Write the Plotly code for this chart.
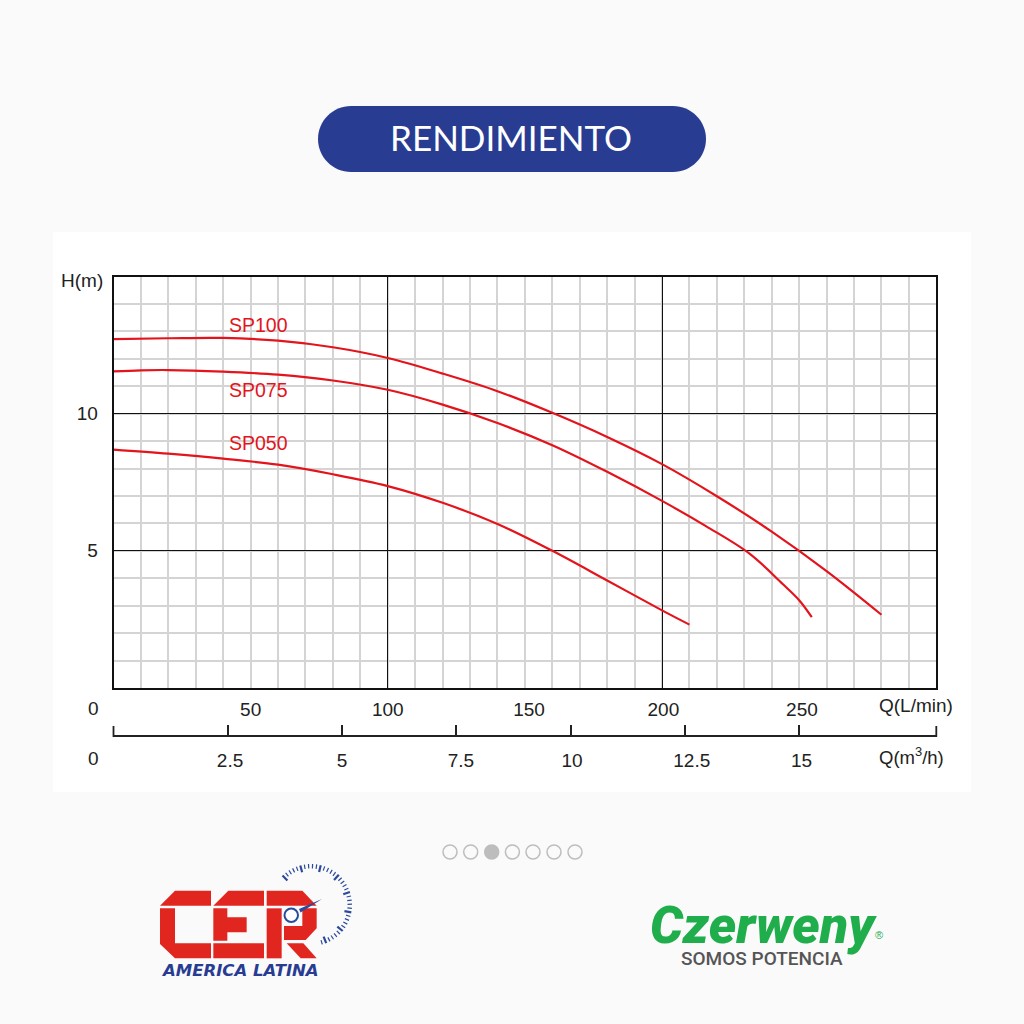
import math
import plotly.graph_objects as go

# ---------- data ----------
sp100_q = [0, 20, 40, 60, 80, 100, 120, 140, 160, 180, 200, 220, 240, 260, 280]
sp100_h = [12.72, 12.75, 12.76, 12.66, 12.42, 12.03, 11.46, 10.82, 10.03, 9.15, 8.16, 6.99, 5.7, 4.26, 2.67]
sp075_q = [0, 10, 20, 40, 60, 80, 100, 120, 140, 160, 180, 200, 216, 232, 244, 250, 254.6]
sp075_h = [11.54, 11.58, 11.59, 11.53, 11.42, 11.21, 10.87, 10.33, 9.66, 8.85, 7.88, 6.82, 5.9, 4.89, 3.79, 3.2, 2.58]
sp050_q = [0, 20, 40, 60, 80, 100, 120, 140, 160, 180, 200, 210]
sp050_h = [8.69, 8.54, 8.36, 8.14, 7.79, 7.36, 6.75, 5.98, 5.0, 3.92, 2.83, 2.31]
series_names = ["SP100", "SP075", "SP050"]
series_label_q = [53, 53, 53]
series_label_h = [13.22, 10.85, 8.92]

h_ticks = [5, 10]
q_grid_major = [100, 200]
lmin_label_pos = [50, 100, 151.5, 200.5, 251]
lmin_labels = ["50", "100", "150", "200", "250"]
m3h_ticks = [2.5, 5, 7.5, 10, 12.5, 15]
m3h_label_pos = [2.55, 5, 7.6, 10.03, 12.65, 15.05]
m3h_labels = ["2.5", "5", "7.5", "10", "12.5", "15"]

# ---------- style ----------
W = 1024
BG = "#fafafa"
INK = "#222222"
RED = "#e3141c"
GRID = "#d4d4d4"
BLUE = "#283c92"
FONT = "Liberation Sans"
AX_L, AX_R = 113.5, 936.3


def px(x):
    return x / W


def py(y):
    return 1 - y / W


def poly(points, color):
    path = "M " + " L ".join(f"{px(a):.5f},{py(b):.5f}" for a, b in points) + " Z"
    return dict(type="path", xref="paper", yref="paper", path=path, fillcolor=color, line=dict(width=0))


def pill(x0, y0, x1, y1, r, color):
    k = 0.5523 * r
    p = [
        f"M {px(x0+r)},{py(y0)}", f"L {px(x1-r)},{py(y0)}",
        f"C {px(x1-r+k)},{py(y0)} {px(x1)},{py(y0+r-k)} {px(x1)},{py(y0+r)}",
        f"L {px(x1)},{py(y1-r)}",
        f"C {px(x1)},{py(y1-r+k)} {px(x1-r+k)},{py(y1)} {px(x1-r)},{py(y1)}",
        f"L {px(x0+r)},{py(y1)}",
        f"C {px(x0+r-k)},{py(y1)} {px(x0)},{py(y1-r+k)} {px(x0)},{py(y1-r)}",
        f"L {px(x0)},{py(y0+r)}",
        f"C {px(x0)},{py(y0+r-k)} {px(x0+r-k)},{py(y0)} {px(x0+r)},{py(y0)}", "Z",
    ]
    return dict(type="path", xref="paper", yref="paper", path=" ".join(p), fillcolor=color, line=dict(width=0), layer="below")


def note(text, x, y, size=19, color=INK, family=FONT, **fontkw):
    return dict(text=text, xref="paper", yref="paper", x=px(x), y=py(y), showarrow=False,
                xanchor="center", yanchor="middle", font=dict(size=size, color=color, family=family, **fontkw))


shapes = [
    dict(type="rect", xref="paper", yref="paper", x0=px(53), x1=px(971), y0=py(232), y1=py(792),
         fillcolor="white", line=dict(width=0), layer="below"),
    pill(318, 106, 706, 172, 33, BLUE),
]

# end ticks of the m3/h scale
for ex in (AX_L, AX_R):
    shapes.append(dict(type="line", xref="paper", yref="paper", x0=px(ex), x1=px(ex), y0=py(737), y1=py(726),
                       line=dict(color=INK, width=1.8)))

# pagination dots
for i, cx in enumerate([450, 470.7, 491.7, 512.4, 533, 554, 575]):
    shapes.append(dict(type="circle", xref="paper", yref="paper", x0=px(cx - 7), x1=px(cx + 7),
                       y0=py(859), y1=py(845), line=dict(color="#bdbdbd", width=1.5),
                       fillcolor="#bdbdbd" if i == 2 else "rgba(0,0,0,0)"))


# CER logo (zoomed-crop coordinates mapped to page)
def z(points):
    return [(a / 3 + 140, b / 3 + 840) for a, b in points]


LOGO_RED = "#e1251f"
cer_polys = [
    [(60, 197), (105, 152), (213, 152), (213, 197)],
    [(60, 205), (105, 205), (105, 310), (213, 310), (213, 355), (105, 355), (60, 312)],
    [(220, 197), (265, 152), (372, 152), (372, 197)],
    [(220, 205), (262, 205), (262, 232), (320, 232), (320, 277), (262, 277), (262, 302), (220, 302)],
    [(220, 310), (372, 310), (372, 355), (220, 355)],
    [(380, 197), (380, 152), (487, 152), (530, 197)],
    [(380, 205), (425, 205), (425, 355), (380, 355)],
    [(487, 205), (530, 205), (530, 265), (497, 300), (432, 300), (432, 258), (487, 258)],
    [(440, 310), (490, 310), (530, 355), (482, 355)],
]
for pts in cer_polys:
    shapes.append(poly(z(pts), LOGO_RED))

GAUGE = "#2b4a9b"
shapes.append(dict(type="circle", xref="paper", yref="paper", x0=px(284.5), x1=px(298), y0=py(922), y1=py(908.5),
                   line=dict(color=GAUGE, width=2), fillcolor="white"))
shapes.append(poly([(300.5, 912.5), (299, 909), (322, 899)], GAUGE))
cx, cy, rad = 311, 905, 41
n_ticks = 37
for i in range(n_ticks):
    a = math.radians(134 - i * (208 / (n_ticks - 1)))
    major = i % 5 == 0
    ln = 7 if major else 4.5
    shapes.append(dict(type="line", xref="paper", yref="paper",
                       x0=px(cx + rad * math.cos(a)), y0=py(cy - rad * math.sin(a)),
                       x1=px(cx + (rad - ln) * math.cos(a)), y1=py(cy - (rad - ln) * math.sin(a)),
                       line=dict(color=GAUGE, width=2.2 if major else 1.2)))

annotations = [
    note("RENDIMIENTO", 511, 137, size=35, color="white", family="Lato"),
    note("H(m)", 82, 280.5),
    note("0", 93, 708.5),
    note("0", 93, 758.5),
    note("Q(L/min)", 916, 705.5),
    note("Q(m<sup>3</sup>/h)", 911, 755.5, size=18.5),
    note("AMERICA LATINA", 239.5, 970, size=16.5, color=BLUE, family="DejaVu Sans", weight=700, style="italic"),
    note("Czerweny", 763.5, 925, size=52, color="#1fae4b", family="Roboto", weight=900, style="italic"),
    note("®", 879, 935, size=11, color="#1fae4b"),
    note("SOMOS POTENCIA", 762, 958, size=19, color="#555555", family="Roboto", weight=500),
]
for name, q, h in zip(series_names, series_label_q, series_label_h):
    annotations.append(dict(text=name, x=q, y=h, xref="x", yref="y", showarrow=False,
                            xanchor="center", yanchor="middle",
                            font=dict(size=19.5, color=RED, family=FONT)))

fig = go.Figure()
for q, h, name in [(sp100_q, sp100_h, "SP100"), (sp075_q, sp075_h, "SP075"), (sp050_q, sp050_h, "SP050")]:
    fig.add_trace(go.Scatter(x=q, y=h, name=name, mode="lines", showlegend=False, hoverinfo="skip",
                             line=dict(color=RED, width=2.2, shape="spline", smoothing=1.0)))
for ax in ["x2", "x3", "x4"]:
    fig.add_trace(go.Scatter(x=[], y=[], xaxis=ax, yaxis="y", showlegend=False, hoverinfo="skip"))

fig.update_layout(
    width=W, height=W, autosize=False, margin=dict(l=0, r=0, t=0, b=0),
    paper_bgcolor=BG, plot_bgcolor="white", showlegend=False,
    font=dict(family=FONT, size=19, color=INK),
    shapes=shapes, annotations=annotations,
    xaxis=dict(domain=[px(AX_L), px(AX_R)], range=[0, 300], tickmode="array", tickvals=q_grid_major,
               showticklabels=False, ticks="", showgrid=True, gridcolor="#111111", gridwidth=1.2,
               minor=dict(dtick=10, tick0=0, showgrid=True, gridcolor=GRID, gridwidth=1.6, ticks=""),
               showline=True, linecolor="#111111", linewidth=1.8, mirror=True, zeroline=False, layer="below traces"),
    yaxis=dict(domain=[py(688), py(276.5)], range=[0, 15], tickmode="array", tickvals=h_ticks,
               ticks="outside", ticklen=10, tickcolor="rgba(0,0,0,0)", showgrid=True, gridcolor="#111111", gridwidth=1.2,
               minor=dict(dtick=1, tick0=0, showgrid=True, gridcolor=GRID, gridwidth=1.6, ticks=""),
               showline=True, linecolor="#111111", linewidth=1.8, mirror=True, zeroline=False,
               tickfont=dict(size=19, color=INK)),
    xaxis2=dict(overlaying="x", anchor="free", position=py(695.5), range=[0, 300], tickmode="array",
                tickvals=lmin_label_pos, ticktext=lmin_labels, ticks="", showgrid=False, showline=False,
                zeroline=False, tickfont=dict(size=19, color=INK)),
    xaxis3=dict(overlaying="x", anchor="free", position=py(736), range=[0, 18.0], tickmode="array",
                tickvals=m3h_ticks, showticklabels=False, ticks="inside", ticklen=10, tickwidth=1.8, tickcolor=INK,
                showgrid=False, showline=True, linecolor=INK, linewidth=1.8, zeroline=False),
    xaxis4=dict(overlaying="x", anchor="free", position=py(747), range=[0, 18.0], tickmode="array",
                tickvals=m3h_label_pos, ticktext=m3h_labels, ticks="", showgrid=False, showline=False,
                zeroline=False, tickfont=dict(size=19, color=INK)),
)

fig.write_html("out.html", config={"displayModeBar": False},
               post_script="document.body.style.margin='0';document.body.style.overflow='hidden';")
